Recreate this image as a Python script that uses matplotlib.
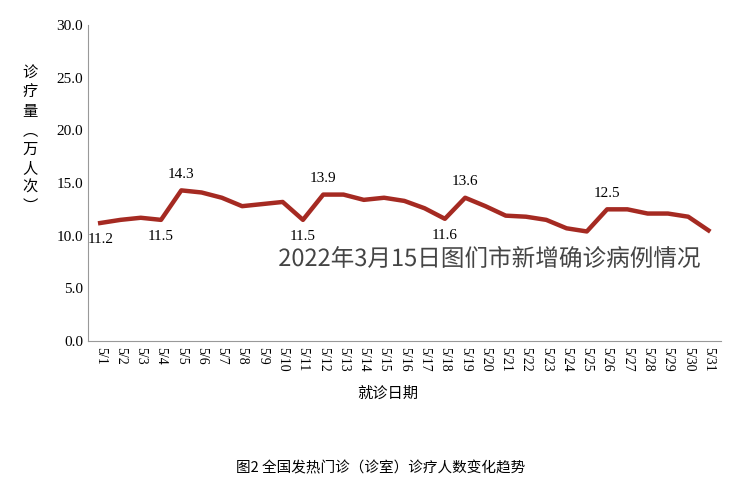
import matplotlib
matplotlib.use("Agg")
import matplotlib.pyplot as plt
import matplotlib.patheffects as pe

dates = [f"5/{i}" for i in range(1, 32)]
values = [11.2, 11.5, 11.7, 11.5, 14.3, 14.1, 13.6, 12.8, 13.0, 13.2, 11.5, 13.9, 13.9, 13.4, 13.6,
          13.3, 12.6, 11.6, 13.6, 12.8, 11.9, 11.8, 11.5, 10.7, 10.4, 12.5, 12.5, 12.1, 12.1, 11.8, 10.5]
labels = {0: (11.2, -1), 3: (11.5, -1), 4: (14.3, 1), 10: (11.5, -1), 11: (13.9, 1), 17: (11.6, -1), 18: (13.6, 1), 25: (12.5, 1)}
yticks = [0, 5, 10, 15, 20, 25, 30]

cjk = ['Noto Sans CJK SC', 'DejaVu Sans']
serif = ['Liberation Serif', 'DejaVu Serif']
fig = plt.figure(figsize=(7.46, 5.0), dpi=100)
ax = fig.add_axes([0.118, 0.318, 0.848, 0.632])
x = list(range(len(dates)))
ax.plot(x, values, color='#a52a22', lw=3.2)
ax.set_xlim(-0.6, 30.6)
ax.set_ylim(0, 30)
ax.set_yticks(yticks)
ax.set_yticklabels([f"{v:.1f}" for v in yticks], fontfamily=serif, fontsize=11)
ax.set_xticks(x)
ax.set_xticklabels(dates, rotation=270, fontfamily=serif, fontsize=10)
ax.tick_params(axis='x', length=0, pad=4)
ax.tick_params(axis='y', length=0)
for s in ['top', 'right']:
    ax.spines[s].set_visible(False)
for s in ['left', 'bottom']:
    ax.spines[s].set_color('#999999')
for i, (v, d) in labels.items():
    ax.annotate(f"{v}", (i, v), xytext=(0, 7 * d), textcoords='offset points', ha='center',
                va='bottom' if d > 0 else 'top', fontfamily=serif, fontsize=11)
fig.text(0.04, 0.72, "诊\n疗\n量\n︵\n万\n人\n次\n︶", fontfamily=cjk, fontsize=11, ha='center', va='center', linespacing=1.15)
fig.text(0.52, 0.205, "就诊日期", fontfamily=cjk, fontsize=11, ha='center')
fig.text(0.51, 0.055, "图2 全国发热门诊（诊室）诊疗人数变化趋势", fontfamily=cjk, fontsize=10.5, ha='center')
fig.text(0.373, 0.468, "2022年3月15日图们市新增确诊病例情况", fontfamily=cjk, fontsize=17, color='#444444',
         path_effects=[pe.withStroke(linewidth=3, foreground='white')])
fig.savefig("out.png")
